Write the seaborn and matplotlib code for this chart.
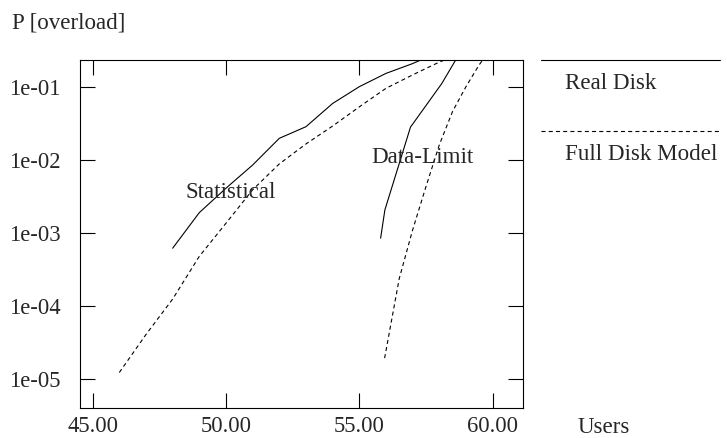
import matplotlib
matplotlib.use("Agg")
import matplotlib.pyplot as plt
from matplotlib.lines import Line2D
import numpy as np
import pandas as pd
import seaborn as sns

# ---- data ----
stat_real_x = [48, 49, 50, 51, 52, 53, 54, 55, 56, 57, 58]
stat_real_y = [6.2e-4, 1.9e-3, 4.1e-3, 8.5e-3, 1.97e-2, 2.84e-2, 5.9e-2, 1.0e-1, 1.52e-1, 2.07e-1, 3.0e-1]

stat_model_x = [46, 47, 48, 49, 50, 51, 52, 53, 54, 55, 56, 57, 58, 59]
stat_model_y = [1.24e-5, 4.1e-5, 1.25e-4, 4.8e-4, 1.36e-3, 3.9e-3, 8.8e-3, 1.65e-2, 2.9e-2, 5.3e-2, 9.5e-2, 1.45e-1, 2.17e-1, 3.0e-1]

dl_real_x = [55.8, 55.96, 56.92, 58.09, 59.0]
dl_real_y = [8.5e-4, 2.07e-3, 2.8e-2, 1.1e-1, 4.0e-1]

dl_model_x = [55.95, 56.5, 57.0, 57.5, 58.0, 58.5, 59.0, 59.5, 60.0]
dl_model_y = [1.95e-5, 2.4e-4, 1.1e-3, 4.3e-3, 1.6e-2, 4.6e-2, 1.0e-1, 2.0e-1, 3.5e-1]

x_ticks = [45, 50, 55, 60]
x_tick_labels = ["45.00", "50.00", "55.00", "60.00"]
y_ticks = [1e-5, 1e-4, 1e-3, 1e-2, 1e-1]
y_tick_labels = ["1e-05", "1e-04", "1e-03", "1e-02", "1e-01"]

legend_labels = ["Real Disk", "Full Disk Model"]
curve_labels = ["Statistical", "Data-Limit"]

# ---- style ----
sns.set_style("ticks")
plt.rcParams["font.family"] = ["Liberation Serif", "DejaVu Serif"]
plt.rcParams["lines.scale_dashes"] = False

FS = 16.6
FS_TICK = 16.3
LW = 0.8
DASH = (0, (2.9, 2.3))

fig = plt.figure(figsize=(7.27, 4.38), dpi=100)
ax = fig.add_axes([80 / 727, 1 - 408.3 / 438, (523 - 80) / 727, (408.3 - 60) / 438])

def draw(xs, ys, style):
    df = pd.DataFrame({"x": xs, "y": ys})
    sns.lineplot(data=df, x="x", y="y", ax=ax, color="black", linewidth=LW,
                 estimator=None, sort=False, linestyle=style)

draw(stat_real_x, stat_real_y, "-")
draw(stat_model_x, stat_model_y, DASH)
draw(dl_real_x, dl_real_y, "-")
draw(dl_model_x, dl_model_y, DASH)

ax.set_yscale("log")
ax.set_xlim(44.525, 61.14)
ax.set_ylim(10 ** -5.396, 10 ** -0.635)
ax.set_xticks(x_ticks)
ax.set_xticklabels(x_tick_labels, fontsize=FS_TICK)
ax.set_yticks(y_ticks)
ax.set_yticklabels(y_tick_labels, fontsize=FS_TICK)
ax.yaxis.set_minor_locator(matplotlib.ticker.NullLocator())
ax.xaxis.set_minor_locator(matplotlib.ticker.NullLocator())
ax.tick_params(axis="both", which="major", direction="in", length=10.8, width=LW,
               top=True, right=True, color="black")
ax.tick_params(axis="x", pad=5.5)
ax.tick_params(axis="y", pad=13.7)
ax.set_xlabel("")
ax.set_ylabel("")
for s in ax.spines.values():
    s.set_linewidth(LW)
    s.set_color("black")

# curve labels
ax.text(50.17, 10 ** (-1 - (198.3 - 86.7) / 73.2), curve_labels[0], fontsize=FS,
        ha="center", va="baseline")
ax.text(57.37, 10 ** (-1 - (163.3 - 86.7) / 73.2), curve_labels[1], fontsize=FS,
        ha="center", va="baseline")

# axis titles
fig.text(11.7 / 727, 1 - 28.3 / 438, "P [overload]", fontsize=FS, ha="left", va="baseline")
fig.text(577.7 / 727, 1 - 433 / 438, "Users", fontsize=FS, ha="left", va="baseline")

# legend (line above text, gnuplot style)
fig.add_artist(Line2D([541 / 727, 720 / 727], [1 - 60 / 438, 1 - 60 / 438],
                      color="black", linewidth=LW))
fig.text(565 / 727, 1 - 89.3 / 438, legend_labels[0], fontsize=FS, ha="left", va="baseline")
fig.add_artist(Line2D([541 / 727, 720 / 727], [1 - 130.7 / 438, 1 - 130.7 / 438],
                      color="black", linewidth=LW, linestyle=DASH))
fig.text(565 / 727, 1 - 160 / 438, legend_labels[1], fontsize=FS, ha="left", va="baseline")

fig.savefig("out.png", dpi=100)
